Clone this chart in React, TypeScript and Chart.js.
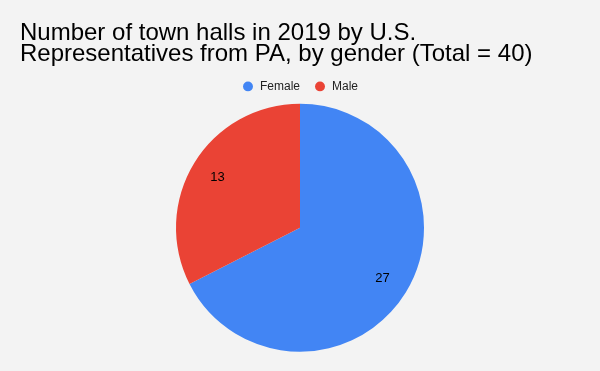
import React, { useEffect, useRef } from "react";
import { Chart, registerables } from "chart.js";

Chart.register(...registerables);

const titleLines = [
  "Number of town halls in 2019 by U.S.",
  "Representatives from PA, by gender (Total = 40)",
];
const categories = ["Female", "Male"];
const townHalls = [27, 13];
const sliceColors = ["#4285f4", "#ea4335"];

const sliceLabelPlugin = {
  id: "sliceLabels",
  afterDatasetsDraw(chart: any) {
    const { ctx } = chart;
    const meta = chart.getDatasetMeta(0);
    const data = chart.data.datasets[0].data as number[];
    ctx.save();
    ctx.font = "13px Arial, 'Liberation Sans', sans-serif";
    ctx.fillStyle = "#000000";
    ctx.textAlign = "center";
    ctx.textBaseline = "middle";
    meta.data.forEach((arc: any, i: number) => {
      const { startAngle, endAngle, x, y, outerRadius } = arc.getProps(
        ["startAngle", "endAngle", "x", "y", "outerRadius"],
        true
      );
      const mid = (startAngle + endAngle) / 2;
      const r = outerRadius * 0.78;
      ctx.fillText(String(data[i]), x + Math.cos(mid) * r, y + Math.sin(mid) * r);
    });
    ctx.restore();
  },
};

export default function App() {
  const canvasRef = useRef<HTMLCanvasElement | null>(null);

  useEffect(() => {
    if (!canvasRef.current) return;
    const chart = new Chart(canvasRef.current, {
      type: "pie",
      data: {
        labels: categories,
        datasets: [
          {
            data: townHalls,
            backgroundColor: sliceColors,
            borderWidth: 0,
            radius: 124,
          },
        ],
      },
      options: {
        animation: false,
        responsive: false,
        maintainAspectRatio: false,
        layout: { padding: { left: 20, right: 20, top: 0, bottom: 18 } },
        plugins: {
          title: {
            display: true,
            text: titleLines,
            align: "start",
            color: "#000000",
            font: {
              family: "Arial, 'Liberation Sans', sans-serif",
              size: 24,
              weight: "normal",
              lineHeight: 0.85,
            },
            padding: { top: 23.5, bottom: 2.1 },
          },
          legend: {
            display: true,
            position: "top",
            align: "center",
            labels: {
              usePointStyle: true,
              pointStyle: "circle",
              boxWidth: 15,
              boxHeight: 7,
              padding: 14,
              color: "#222222",
              font: { family: "Arial, 'Liberation Sans', sans-serif", size: 12 },
            },
          },
          tooltip: { enabled: false },
        },
      },
      plugins: [sliceLabelPlugin],
    });
    return () => chart.destroy();
  }, []);

  return (
    <div
      style={{
        position: "absolute",
        left: 0,
        top: 0,
        width: 600,
        height: 371,
        background: "#f3f3f3",
      }}
    >
      <canvas ref={canvasRef} width={600} height={371} style={{ display: "block" }} />
    </div>
  );
}
